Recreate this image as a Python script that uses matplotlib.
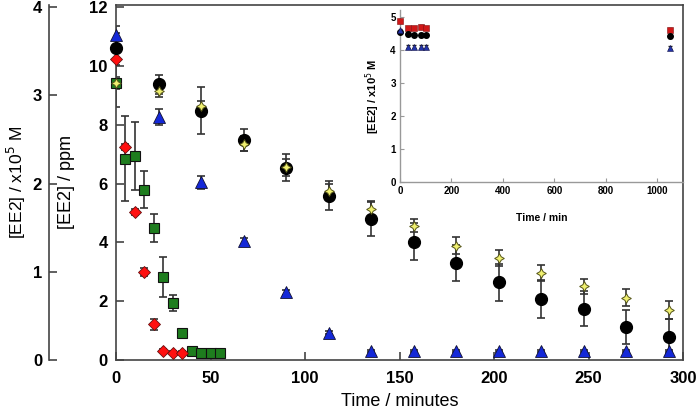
import matplotlib
matplotlib.use("Agg")
import matplotlib.pyplot as plt
import numpy as np

plt.rcParams['font.family'] = ['Liberation Sans', 'DejaVu Sans']

# ---- main data (ppm) ----
t_black = [0, 22.5, 45, 67.5, 90, 112.5, 135, 157.5, 180, 202.5, 225, 247.5, 270, 292.5]
y_black = [10.62, 9.38, 8.47, 7.48, 6.53, 5.59, 4.79, 4.02, 3.30, 2.65, 2.07, 1.74, 1.13, 0.79]
e_black = [0.5, 0.32, 0.8, 0.38, 0.46, 0.5, 0.58, 0.63, 0.62, 0.63, 0.64, 0.6, 0.57, 0.6]

t_star = [0, 22.5, 45, 67.5, 90, 112.5, 135, 157.5, 180, 202.5, 225, 247.5, 270, 292.5]
y_star = [9.41, 9.13, 8.62, 7.36, 6.55, 5.76, 5.14, 4.57, 3.89, 3.47, 2.96, 2.50, 2.12, 1.71]
e_star = [0.2, 0.2, 0.2, 0.25, 0.3, 0.22, 0.25, 0.22, 0.3, 0.27, 0.27, 0.27, 0.29, 0.3]

t_blue = [0, 22.5, 45, 67.5, 90, 112.5, 135, 157.5, 180, 202.5, 225, 247.5, 270, 292.5]
y_blue = [11.06, 8.26, 6.05, 4.04, 2.30, 0.93, 0.31, 0.31, 0.31, 0.31, 0.31, 0.31, 0.31, 0.31]
e_blue = [0.3, 0.28, 0.22, 0.12, 0.08, 0.06, 0.04, 0.04, 0.04, 0.04, 0.04, 0.04, 0.04, 0.04]

t_red = [0, 5, 10, 15, 20, 25, 30, 35]
y_red = [10.23, 7.24, 5.02, 2.99, 1.22, 0.31, 0.25, 0.25]
e_red = [0.2, 0.1, 0.1, 0.15, 0.19, 0.05, 0.05, 0.05]

t_green = [0, 5, 10, 15, 20, 25, 30, 35, 40, 45, 50, 55]
y_green = [9.41, 6.84, 6.93, 5.79, 4.49, 2.81, 1.95, 0.91, 0.30, 0.25, 0.24, 0.23]
e_green = [0.8, 1.45, 1.16, 0.62, 0.47, 0.68, 0.27, 0.05, 0.05, 0.05, 0.05, 0.05]

# ---- inset data (x10^5 M) ----
ti = [0, 30, 55, 80, 100, 1050]
yi_red = [4.87, 4.67, 4.67, 4.71, 4.67, 4.61]
yi_black = [4.55, 4.48, 4.46, 4.45, 4.44, 4.41]
yi_blue = [4.60, 4.10, 4.10, 4.10, 4.10, 4.07]

W, H = 697, 412
fig = plt.figure(figsize=(W / 100, H / 100), dpi=100)

def rect(l, r, t, b):
    return [l / W, 1 - b / H, (r - l) / W, (b - t) / H]

spc = '#444444'
ecol = '#333333'
YMAX = 12.07

# secondary (molar) axis
axm = fig.add_axes(rect(49, 50, 5, 360))
axm.set_facecolor('none')
for s in ['top', 'right', 'bottom']:
    axm.spines[s].set_visible(False)
axm.spines['left'].set_color(spc)
axm.spines['left'].set_linewidth(1.2)
axm.set_ylim(0, YMAX / 3)
axm.set_yticks([0, 1, 2, 3, 4])
axm.set_xticks([])
axm.tick_params(axis='y', direction='in', length=6, width=1.2, color=spc, pad=5,
                labelsize=12)
for lb in axm.get_yticklabels():
    lb.set_fontweight('bold')
fig.text(16 / W, 1 - 182 / H, '[EE2] / x10$^5$ M', fontsize=12.5, rotation=90,
         ha='center', va='center')

# main axis
ax = fig.add_axes(rect(116, 683, 5, 360))
ax.set_xlim(0, 300)
ax.set_ylim(0, YMAX)
ax.set_xticks([0, 50, 100, 150, 200, 250, 300])
ax.set_yticks([0, 2, 4, 6, 8, 10, 12])
for s in ax.spines.values():
    s.set_color(spc)
    s.set_linewidth(1.2)
ax.tick_params(direction='in', length=6, width=1.2, color=spc, labelsize=12)
ax.tick_params(axis='x', pad=8)
ax.tick_params(axis='y', pad=6)
for lb in ax.get_xticklabels() + ax.get_yticklabels():
    lb.set_fontweight('bold')
ax.set_xlabel('Time / minutes', fontsize=13, labelpad=5)
ax.set_ylabel('[EE2] / ppm', fontsize=13)
ax.yaxis.set_label_coords((75 - 116) / 567, 0.5)

ekw = dict(fmt='none', ecolor=ecol, elinewidth=1.2, capsize=3, capthick=1.2, zorder=2)
ax.errorbar(t_green, y_green, yerr=e_green, **ekw)
ax.errorbar(t_red, y_red, yerr=e_red, **ekw)
ax.errorbar(t_blue, y_blue, yerr=e_blue, **ekw)
ax.errorbar(t_black, y_black, yerr=e_black, **ekw)
ax.errorbar(t_star, y_star, yerr=e_star, **ekw)

ax.plot(t_green, y_green, 's', ms=7, mfc='#1e7d1e', mec='#111111', mew=0.8, zorder=3, clip_on=False)
ax.plot(t_red, y_red, 'D', ms=6.5, mfc='#ff1010', mec='#661111', mew=0.6, zorder=3, clip_on=False)
ax.plot(t_blue, y_blue, '^', ms=8, mfc='#1428d8', mec='#111133', mew=0.6, zorder=3, clip_on=False)
ax.plot(t_black, y_black, 'o', ms=8.5, mfc='black', mec='black', zorder=4, clip_on=False)
ax.plot(t_star, y_star, marker=(4, 1, 0), ls='none', ms=7, mfc='#f0f070', mec='#55551a', mew=0.7,
        zorder=5, clip_on=False)

# inset
axi = fig.add_axes(rect(400, 683, 10, 182))
axi.set_facecolor('none')
axi.set_xlim(0, 1100)
axi.set_ylim(0, 5.21)
for s in ['top', 'right']:
    axi.spines[s].set_visible(False)
for s in ['left', 'bottom']:
    axi.spines[s].set_color('#999999')
    axi.spines[s].set_linewidth(1.0)
axi.set_xticks([0, 200, 400, 600, 800, 1000])
axi.set_yticks([0, 1, 2, 3, 4, 5])
axi.tick_params(direction='in', length=3, width=0.8, color='#999999', labelsize=7, pad=3)
for lb in axi.get_xticklabels() + axi.get_yticklabels():
    lb.set_fontweight('bold')
axi.set_xlabel('Time / min', fontsize=7.5, fontweight='bold', labelpad=12)
axi.set_ylabel('[EE2] / x10$^5$ M', fontsize=8, fontweight='bold', labelpad=6)

ikw = dict(fmt='none', ecolor='#222222', elinewidth=0.8, capsize=1.5, zorder=2)
axi.errorbar(ti, yi_red, yerr=0.04, **ikw)
axi.errorbar(ti, yi_black, yerr=0.05, **ikw)
axi.errorbar(ti, yi_blue, yerr=0.04, **ikw)
axi.plot(ti, yi_red, 's', ms=4, mfc='#d01818', mec='#801010', mew=0.4, zorder=3, clip_on=False)
axi.plot(ti, yi_black, 'o', ms=4, mfc='black', mec='black', zorder=3, clip_on=False)
axi.plot(ti, yi_blue, '^', ms=4, mfc='#2233aa', mec='#111144', mew=0.4, zorder=3, clip_on=False)

fig.savefig('out.png', dpi=100)
